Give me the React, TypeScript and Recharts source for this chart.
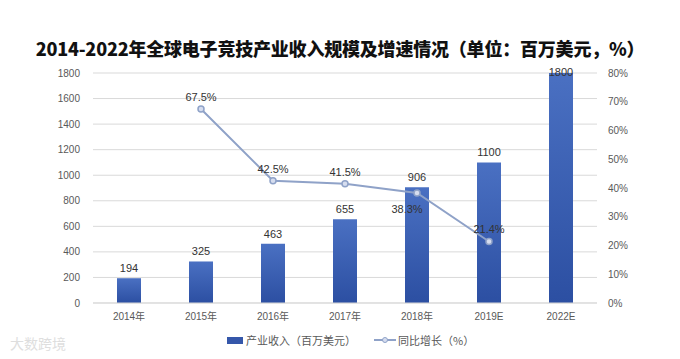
import {
  ComposedChart,
  Bar,
  Line,
  XAxis,
  YAxis,
  CartesianGrid,
  Legend,
  LabelList,
} from "recharts";

const years = ["2014年", "2015年", "2016年", "2017年", "2018年", "2019E", "2022E"];
const revenue = [194, 325, 463, 655, 906, 1100, 1800];
const growth = [null, 67.5, 42.5, 41.5, 38.3, 21.4, null];

const leftTicks = [0, 200, 400, 600, 800, 1000, 1200, 1400, 1600, 1800];
const rightTicks = [0, 10, 20, 30, 40, 50, 60, 70, 80];

const chartData = years.map((year, i) => ({
  year,
  revenue: revenue[i],
  growth: growth[i],
}));

const FONT = "'Liberation Sans', 'Noto Sans CJK SC', sans-serif";
const BAR_COLOR = "#3557aa";
const LINE_COLOR = "#8fa2c8";

// bar value label, sits just above the bar
function BarValueLabel(props: any) {
  const { x, y, width, value } = props;
  const ty = Math.max(y - 6, 76);
  return (
    <text x={x + width / 2} y={ty} textAnchor="middle" fontSize={11} fill="#333">
      {value}
    </text>
  );
}

// growth label: above the point, except 2018 which sits below-left
function GrowthLabel(props: any) {
  const { x, y, value, index } = props;
  if (value == null) return null;
  const below = index === 4;
  return (
    <text
      x={below ? x - 10 : x}
      y={below ? y + 20 : y - 8}
      textAnchor="middle"
      fontSize={11}
      fill="#333"
    >
      {value.toFixed(1)}%
    </text>
  );
}

function LegendContent() {
  return (
    <div
      style={{
        display: "flex",
        alignItems: "center",
        paddingLeft: 227,
        paddingTop: 4,
        fontSize: 11,
        lineHeight: "14px",
        color: "#595959",
        fontFamily: "'Noto Sans CJK SC', sans-serif",
      }}
    >
      <span style={{ display: "inline-block", width: 16, height: 7, background: BAR_COLOR, marginRight: 3 }} />
      <span>产业收入（百万美元）</span>
      <svg width={22} height={8} style={{ marginLeft: 18, marginRight: 2 }}>
        <line x1={0} y1={4} x2={22} y2={4} stroke={LINE_COLOR} strokeWidth={2} />
        <circle cx={11} cy={4} r={2.5} fill="#d6ddef" stroke={LINE_COLOR} strokeWidth={1} />
      </svg>
      <span>同比增长（%）</span>
    </div>
  );
}

export default function App() {
  return (
    <div
      style={{
        position: "relative",
        width: 680,
        height: 359,
        margin: -8,
        background: "#fff",
        fontFamily: FONT,
        overflow: "hidden",
      }}
    >
      <div
        style={{
          position: "absolute",
          top: 36,
          left: 0,
          width: 680,
          textAlign: "center",
          fontSize: 18,
          fontWeight: 900,
          lineHeight: "24px",
          letterSpacing: -0.2,
          color: "#111",
          fontFamily: "'Noto Sans CJK SC', sans-serif",
        }}
      >
        2014-2022年全球电子竞技产业收入规模及增速情况（单位：百万美元，%）
      </div>
      <div
        style={{
          position: "absolute",
          left: 10,
          top: 333,
          fontSize: 14,
          lineHeight: "20px",
          color: "#dedede",
          fontFamily: "'Noto Sans CJK SC', sans-serif",
        }}
      >
        大数跨境
      </div>
      <ComposedChart
        width={680}
        height={359}
        data={chartData}
        margin={{ top: 73, right: 0, bottom: 0, left: 0 }}
      >
        <defs>
          <linearGradient id="barGrad" x1="0" y1="0" x2="0" y2="1">
            <stop offset="0%" stopColor="#4a70c2" />
            <stop offset="100%" stopColor="#2c4fa2" />
          </linearGradient>
        </defs>
        <CartesianGrid yAxisId="left" vertical={false} stroke="#d9d9d9" />
        <XAxis
          dataKey="year"
          height={26}
          axisLine={{ stroke: "#d9d9d9" }}
          tickLine={false}
          tickSize={0}
          tickMargin={10}
          tick={{ fontSize: 10, fill: "#595959" }}
        />
        <YAxis
          yAxisId="left"
          width={93}
          domain={[0, 1800]}
          ticks={leftTicks}
          axisLine={false}
          tickLine={false}
          tickSize={0}
          tickMargin={13}
          tick={{ fontSize: 10, fill: "#595959" }}
        />
        <YAxis
          yAxisId="right"
          orientation="right"
          width={83}
          domain={[0, 80]}
          ticks={rightTicks}
          tickFormatter={(v) => `${v}%`}
          axisLine={false}
          tickLine={false}
          tickSize={0}
          tickMargin={11}
          tick={{ fontSize: 10, fill: "#595959" }}
        />
        <Legend verticalAlign="bottom" height={30} content={<LegendContent />} />
        <Bar
          yAxisId="left"
          dataKey="revenue"
          name="产业收入（百万美元）"
          barSize={24}
          fill="url(#barGrad)"
          isAnimationActive={false}
        >
          <LabelList dataKey="revenue" content={<BarValueLabel />} />
        </Bar>
        <Line
          yAxisId="right"
          dataKey="growth"
          name="同比增长（%）"
          stroke={LINE_COLOR}
          strokeWidth={2}
          dot={{ r: 3, fill: "#d6ddef", stroke: LINE_COLOR, strokeWidth: 1.5 }}
          isAnimationActive={false}
        >
          <LabelList dataKey="growth" content={<GrowthLabel />} />
        </Line>
      </ComposedChart>
    </div>
  );
}
